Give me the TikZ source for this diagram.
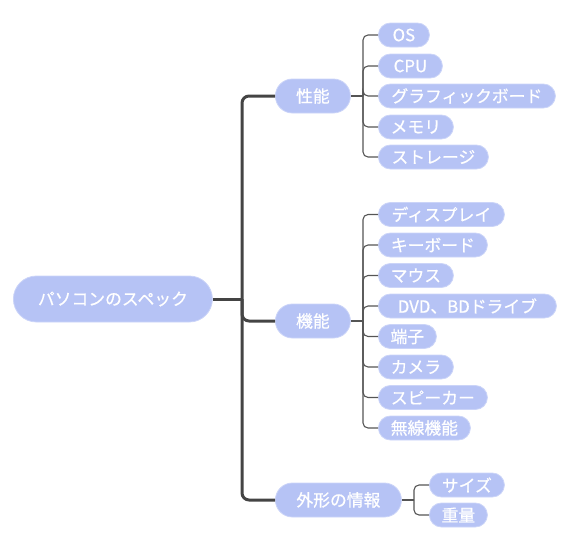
\documentclass[tikz,border=0pt]{standalone}
\usepackage{fontspec}
\setmainfont{Noto Sans CJK JP}[FakeBold=0.6]
\definecolor{nodefill}{HTML}{B6C3F5}
\definecolor{nodeedge}{HTML}{CBD4F8}
\definecolor{trunkcol}{HTML}{444444}
\definecolor{linecol}{HTML}{555555}
\tikzset{
  pill/.style={rectangle, fill=nodefill, draw=nodeedge, line width=0.8pt,
    text=white, inner sep=0pt, anchor=west,
    font=\fontsize{16.8}{18}\selectfont},
  leaf/.style={pill, minimum height=24pt, rounded corners=12pt},
  mid/.style={pill, minimum height=34pt, rounded corners=17pt},
  rootbox/.style={pill, minimum height=46pt, rounded corners=23pt},
  trunk/.style={draw=trunkcol, line width=3pt, rounded corners=7pt},
  twig/.style={draw=linecol, line width=1.1pt, rounded corners=5pt}
}
\begin{document}
\begin{tikzpicture}[x=1pt,y=-1pt]
\useasboundingbox (0,0) rectangle (576,554);
% root
\node[rootbox, minimum width=199pt] (root) at (13,299) {パソコンのスペック};
% level 1
\node[mid, minimum width=75pt] (p1) at (275,96) {性能};
\node[mid, minimum width=75pt] (p2) at (275,321) {機能};
\node[mid, minimum width=126pt] (p3) at (275,500) {外形の情報};
% 性能 children
\node[leaf, minimum width=51pt] (a1) at (378,35) {OS};
\node[leaf, minimum width=64pt] (a2) at (378,66) {CPU};
\node[leaf, minimum width=177pt] (a3) at (378,96) {グラフィックボード};
\node[leaf, minimum width=75pt] (a4) at (378,127) {メモリ};
\node[leaf, minimum width=110pt] (a5) at (378,157) {ストレージ};
% 機能 children
\node[leaf, minimum width=126pt] (b1) at (378,214.5) {ディスプレイ};
\node[leaf, minimum width=109pt] (b2) at (378,245) {キーボード};
\node[leaf, minimum width=75pt] (b3) at (378,275.5) {マウス};
\node[leaf, minimum width=178pt] (b4) at (378,306) {DVD、BDドライブ};
\node[leaf, minimum width=58pt] (b5) at (378,336.5) {端子};
\node[leaf, minimum width=75pt] (b6) at (378,367) {カメラ};
\node[leaf, minimum width=109pt] (b7) at (378,397.5) {スピーカー};
\node[leaf, minimum width=92pt] (b8) at (378,428) {無線機能};
% 外形の情報 children
\node[leaf, minimum width=75pt] (c1) at (429,485) {サイズ};
\node[leaf, minimum width=58pt] (c2) at (429,515) {重量};
% trunk
\coordinate (tk) at (242,299);
\draw[trunk] (root.east) -- (tk);
\draw[trunk] (p1.west) -| (tk) |- (p3.west);
\draw[trunk] (tk) |- (p2.west);
% brackets
\coordinate (ka) at (363,96);
\coordinate (kb) at (363,321);
\coordinate (kc) at (414,500);
\draw[twig] (p1.east) -- (ka);
\draw[twig] (p2.east) -- (kb);
\draw[twig] (p3.east) -- (kc);
\foreach \n in {a1,a2,a3,a4,a5} \draw[twig] (ka) |- (\n.west);
\foreach \n in {b1,b2,b3,b4,b5,b6,b7,b8} \draw[twig] (kb) |- (\n.west);
\foreach \n in {c1,c2} \draw[twig] (kc) |- (\n.west);
\end{tikzpicture}
\end{document}
